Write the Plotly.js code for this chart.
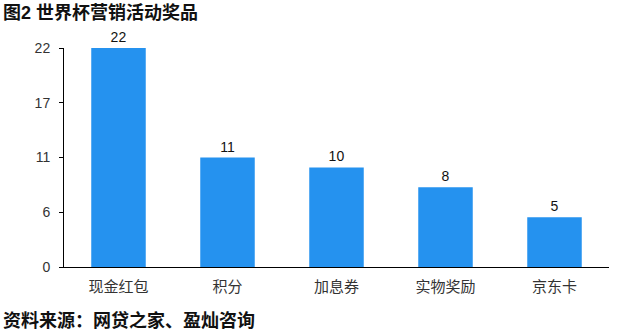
<!DOCTYPE html>
<html>
<head>
<meta charset="utf-8">
<script src="https://cdn.plot.ly/plotly-3.0.1.min.js"></script>
<style>html,body{margin:0;padding:0;background:#fff;}#chart{width:640px;height:331px;}</style>
</head>
<body>
<div id="chart"></div>
<script>
var categories = ["现金红包", "积分", "加息券", "实物奖励", "京东卡"];
var values = [22, 11, 10, 8, 5];
var yTickVals = [0, 5.5, 11, 16.5, 22];
var yTickText = ["0", "6", "11", "17", "22"];
var titleText = "图2 世界杯营销活动奖品";
var sourceText = "资料来源：网贷之家、盈灿咨询";

var FONT = "'Liberation Sans', 'Noto Sans CJK SC', sans-serif";
var W = 640, H = 331, L = 64, R = 31, T = 48, B = 64;
var pw = W - L - R, ph = H - T - B;

var trace = {
  type: "bar",
  x: categories,
  y: values,
  marker: {color: "#2592ef"},
  text: values.map(String),
  textposition: "outside",
  cliponaxis: false,
  textfont: {family: FONT, size: 14, color: "#111"},
  hoverinfo: "none"
};

var layout = {
  width: W, height: H,
  margin: {l: L, r: R, t: T, b: B, pad: 0},
  paper_bgcolor: "#fff", plot_bgcolor: "#fff",
  bargap: 0.5,
  showlegend: false,
  font: {family: FONT, size: 14, color: "#333"},
  xaxis: {
    type: "category",
    showline: true, linecolor: "#000", linewidth: 1,
    ticks: "", showgrid: false, zeroline: false,
    tickfont: {family: FONT, size: 15, color: "#333"},
    ticklabelstandoff: 6
  },
  yaxis: {
    range: [0, 22],
    tickvals: yTickVals, ticktext: yTickText,
    showline: true, linecolor: "#000", linewidth: 1,
    ticks: "outside", ticklen: 4, tickcolor: "#000",
    showgrid: false, zeroline: false,
    tickfont: {family: FONT, size: 14, color: "#333"},
    ticklabelstandoff: 6
  },
  annotations: [
    {text: "<b>" + titleText + "</b>", xref: "paper", yref: "paper",
     x: (1 - L) / pw, y: 1 + (T - 13) / ph, xanchor: "left", yanchor: "middle",
     showarrow: false, font: {family: FONT, size: 18, color: "#111"}},
    {text: "<b>" + sourceText + "</b>", xref: "paper", yref: "paper",
     x: (1 - L) / pw, y: -(320 - T - ph) / ph, xanchor: "left", yanchor: "middle",
     showarrow: false, font: {family: FONT, size: 18, color: "#111"}}
  ]
};

Plotly.newPlot("chart", [trace], layout, {staticPlot: true, displayModeBar: false});
</script>
</body>
</html>
